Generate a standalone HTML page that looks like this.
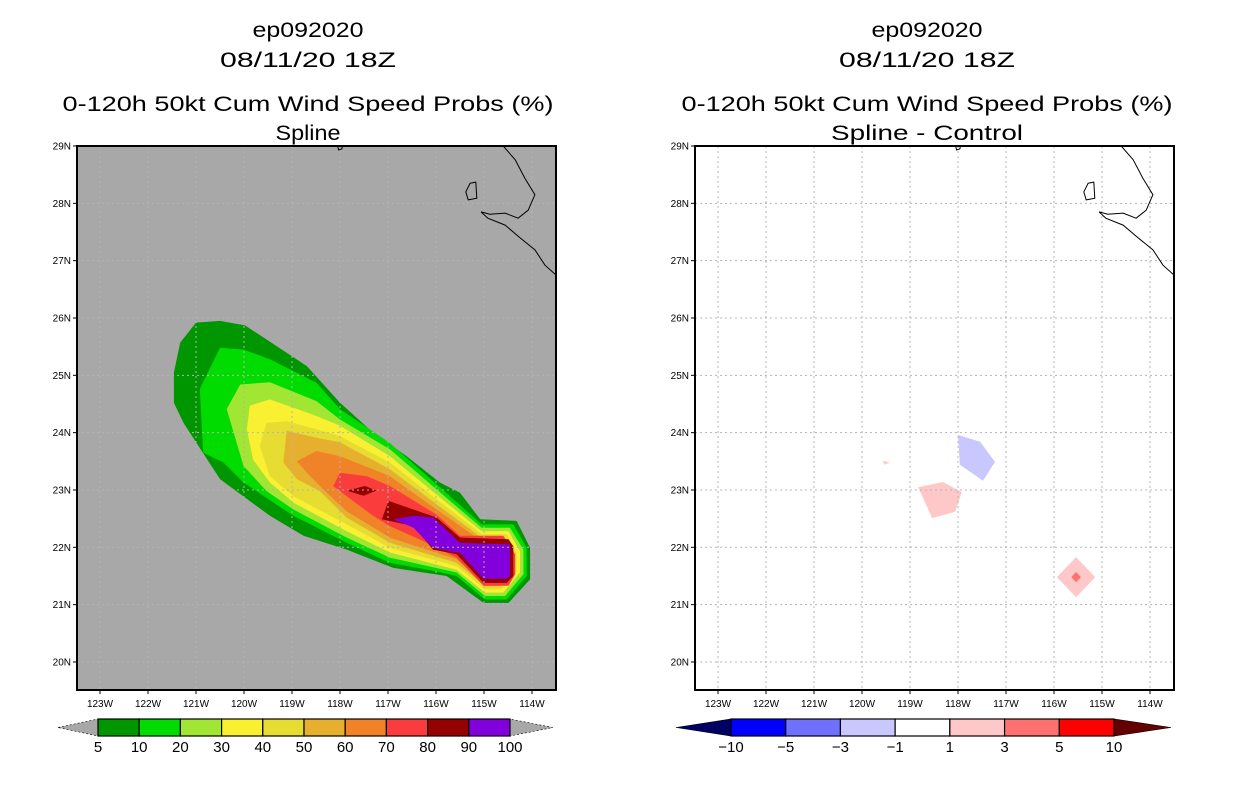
<!DOCTYPE html>
<html><head><meta charset="utf-8"><style>
body{margin:0;background:#fff;width:1236px;height:800px;overflow:hidden}
svg{display:block}
text{font-family:"Liberation Sans",sans-serif;fill:#000}
</style></head><body>
<svg id="c" width="1236" height="800" xmlns="http://www.w3.org/2000/svg"></svg>
<script>
// ---- data ----
const lonTicks=[-123,-122,-121,-120,-119,-118,-117,-116,-115,-114];
const latTicks=[20,21,22,23,24,25,26,27,28,29];
const probLevels=[5,10,20,30,40,50,60,70,80,90,100];
const probColors=["#009600","#00dc00","#a0e632","#faf032","#e6dc32","#e6af2d","#f08228","#fa3c3c","#960000","#8200dc"];
const diffLevels=[-10,-5,-3,-1,1,3,5,10];
const diffColors=["#000064","#0000ff","#7070ff","#c8c8ff","#ffffff","#ffc8c8","#ff7070","#ff0000","#640000"];
const p5=[[-121.0,25.92],[-120.5,25.95],[-119.98,25.87],[-119.32,25.51],[-118.69,25.16],[-118.0,24.52],[-117.31,24.0],[-116.61,23.59],[-115.92,23.13],[-115.5,22.95],[-115.08,22.49],[-114.32,22.46],[-114.04,21.99],[-114.04,21.44],[-114.49,21.03],[-115.01,21.03],[-115.78,21.5],[-116.89,21.64],[-117.86,21.96],[-118.76,22.2],[-119.46,22.55],[-120.5,23.19],[-121.26,24.17],[-121.46,24.52],[-121.46,25.05],[-121.33,25.57]];
const p10=[[-120.5,25.48],[-120.01,25.45],[-119.46,25.28],[-118.49,24.87],[-118.0,24.41],[-116.96,23.82],[-115.99,23.1],[-115.05,22.4],[-114.39,22.4],[-114.11,21.99],[-114.11,21.5],[-114.53,21.09],[-114.98,21.09],[-115.57,21.5],[-116.06,21.59],[-116.96,21.73],[-117.86,22.08],[-118.97,22.55],[-120.01,23.13],[-120.43,23.48],[-120.85,23.65],[-120.92,24.76]];
const p20=[[-120.08,24.84],[-119.46,24.88],[-118.49,24.55],[-118.0,24.23],[-116.96,23.71],[-115.99,23.01],[-115.05,22.34],[-114.46,22.34],[-114.18,21.96],[-114.18,21.53],[-114.56,21.15],[-114.98,21.15],[-115.57,21.56],[-116.96,21.82],[-117.86,22.17],[-118.97,22.66],[-119.53,22.98],[-120.01,23.42],[-120.36,24.41]];
const p30=[[-119.88,24.47],[-119.46,24.58],[-118.49,24.29],[-118.0,24.12],[-116.96,23.59],[-115.99,22.92],[-115.05,22.28],[-114.49,22.28],[-114.25,21.93],[-114.25,21.56],[-114.6,21.21],[-114.98,21.21],[-115.57,21.61],[-116.96,21.91],[-117.86,22.28],[-118.97,22.78],[-119.46,23.13],[-119.81,23.53],[-119.94,24.06]];
const p40=[[-119.53,24.17],[-119.11,24.2],[-118.49,24.06],[-118.0,23.94],[-116.96,23.48],[-115.99,22.84],[-115.05,22.23],[-114.53,22.23],[-114.32,21.9],[-114.32,21.59],[-114.63,21.27],[-114.98,21.27],[-115.57,21.67],[-116.96,21.99],[-117.86,22.4],[-118.97,22.89],[-119.46,23.24],[-119.67,23.77]];
const p50=[[-119.11,24.03],[-118.49,23.91],[-118.0,23.83],[-116.96,23.36],[-115.99,22.75],[-115.05,22.17],[-114.56,22.17],[-114.39,21.88],[-114.39,21.61],[-114.67,21.32],[-114.98,21.32],[-115.57,21.73],[-116.96,22.08],[-117.86,22.52],[-118.42,22.98],[-118.9,23.19],[-119.18,23.48]];
const p60=[[-118.9,23.5],[-118.49,23.68],[-118.0,23.59],[-116.96,23.24],[-115.99,22.66],[-115.05,22.11],[-114.6,22.11],[-114.36,21.85],[-114.36,21.6],[-114.6,21.35],[-114.98,21.35],[-115.57,21.79],[-116.96,22.17],[-117.86,22.63],[-118.35,23.01],[-118.69,23.3]];
const p70=[[-118.0,23.3],[-117.44,23.24],[-116.96,23.07],[-115.99,22.57],[-115.5,22.2],[-114.6,22.2],[-114.35,21.88],[-114.35,21.53],[-114.49,21.33],[-115.01,21.33],[-115.57,21.82],[-116.19,22.08],[-116.96,22.37],[-117.31,22.55],[-117.86,22.89],[-118.14,23.07]];
const p80=[[-116.99,22.81],[-116.47,22.66],[-115.99,22.52],[-115.5,22.17],[-114.49,22.14],[-114.39,22.02],[-114.39,21.5],[-114.53,21.38],[-115.01,21.38],[-115.57,21.88],[-116.06,21.96],[-116.47,22.37],[-117.13,22.49]];
const p80b=[[-117.86,22.99],[-117.48,23.07],[-117.24,22.99],[-117.51,22.9]];
const p90=[[-116.89,22.49],[-116.47,22.55],[-116.06,22.52],[-115.5,22.08],[-114.46,22.05],[-114.46,21.5],[-114.53,21.45],[-115.01,21.45],[-115.5,21.9],[-116.06,21.99],[-116.47,22.34]];
const probPolys=[[p5,0],[p10,1],[p20,2],[p30,3],[p40,4],[p50,5],[p60,6],[p70,7],[p80,8],[p80b,8],[p90,9]];
const dBlue=[[-118.0,23.96],[-117.54,23.84],[-117.23,23.49],[-117.48,23.16],[-117.96,23.44]];
const dPink=[[-118.83,23.05],[-118.31,23.14],[-117.92,22.96],[-118.06,22.62],[-118.54,22.51]];
const dPink2=[[-119.56,23.51],[-119.42,23.48],[-119.54,23.44]];
const dDiamond=[[-115.54,21.83],[-115.14,21.48],[-115.54,21.13],[-115.94,21.48]];
const dDiamondIn=[[-115.54,21.57],[-115.44,21.48],[-115.54,21.39],[-115.64,21.48]];
const diffPolys=[[dBlue,3],[dPink,5],[dPink2,5],[dDiamond,5],[dDiamondIn,6]];
const coast=[[-114.6,29.0],[-114.35,28.76],[-114.15,28.44],[-113.94,28.15],[-114.08,27.88],[-114.29,27.74],[-114.56,27.83],[-114.88,27.81],[-115.06,27.85],[-114.92,27.74],[-114.56,27.62],[-114.25,27.4],[-113.94,27.19],[-113.73,26.92],[-113.5,26.75]];
const island=[[-115.29,28.35],[-115.17,28.37],[-115.15,28.09],[-115.33,28.06],[-115.38,28.2]];
const islet=[[-118.05,29.0],[-118.03,28.93],[-117.96,28.95],[-117.95,29.0]];

// ---- drawing ----
const NS="http://www.w3.org/2000/svg";
const svg=document.getElementById('c');
function mk(tag,attrs,parent){const e=document.createElementNS(NS,tag);for(const k in attrs)e.setAttribute(k,attrs[k]);(parent||svg).appendChild(e);return e;}
const panels=[{x0:77,name:'left'},{x0:695,name:'right'}];
const W=479,Y0=146,H=544;
function xs(p,lon){return p.x0+23+(lon+123)*48;}
function ys(lat){return Y0+(29-lat)*57.33;}
function pts(p,arr){return arr.map(d=>xs(p,d[0]).toFixed(1)+','+ys(d[1]).toFixed(1)).join(' ');}
function title(cx,lines,tag){
  const ys_=[37,67,111,140];
  lines.forEach((l,i)=>{const t=mk('text',{x:cx,y:ys_[i],'text-anchor':'middle','font-size':21,textLength:l[1],lengthAdjust:'spacingAndGlyphs'});
  
  
  t.textContent=l[0];});
}
title(308,[["ep092020",111],["08/11/20 18Z",176],["0-120h 50kt Cum Wind Speed Probs (%)",491],["Spline",65]],'left');
title(927,[["ep092020",111],["08/11/20 18Z",176],["0-120h 50kt Cum Wind Speed Probs (%)",491],["Spline - Control",192]],'right');

panels.forEach((p,pi)=>{
  const g=mk('g',{});
  
  
  const cp=mk('clipPath',{id:'clip'+pi},g);mk('rect',{x:p.x0,y:Y0,width:W,height:H},cp);
  const bg=mk('rect',{x:p.x0,y:Y0,width:W,height:H,fill:pi==0?'#a8a8a8':'#ffffff'},g);
  
  
  const inner=mk('g',{'clip-path':'url(#clip'+pi+')'},g);
  const polys=pi==0?probPolys:diffPolys, cols=pi==0?probColors:diffColors;
  polys.forEach((pp,k)=>{const e=mk('polygon',{points:pts(p,pp[0]),fill:cols[pp[1]]},inner);
    
    });
  lonTicks.forEach(l=>{const e=mk('line',{x1:xs(p,l),x2:xs(p,l),y1:Y0,y2:Y0+H,stroke:'#b4b4b4','stroke-dasharray':'2,3','stroke-width':1},inner);
    
    });
  latTicks.forEach(l=>{const e=mk('line',{x1:p.x0,x2:p.x0+W,y1:ys(l),y2:ys(l),stroke:'#b4b4b4','stroke-dasharray':'2,3','stroke-width':1},inner);
    
    });
  const c1=mk('polyline',{points:pts(p,coast),fill:'none',stroke:'#000','stroke-width':1},inner);
  
  
  const c2=mk('polygon',{points:pts(p,island),fill:'none',stroke:'#000','stroke-width':1},inner);
  
  
  const c3=mk('polyline',{points:pts(p,islet),fill:'none',stroke:'#000','stroke-width':1},inner);
  
  
  const fr=mk('rect',{x:p.x0,y:Y0,width:W,height:H,fill:'none',stroke:'#000','stroke-width':2},g);
  
  
  latTicks.forEach(l=>{mk('line',{x1:p.x0-4,x2:p.x0,y1:ys(l),y2:ys(l),stroke:'#000'},g);
    const t=mk('text',{x:p.x0-6,y:ys(l)+3.5,'text-anchor':'end','font-size':10},g);
    
    
    t.textContent=l+'N';});
  lonTicks.forEach(l=>{mk('line',{x1:xs(p,l),x2:xs(p,l),y1:Y0+H,y2:Y0+H+4,stroke:'#000'},g);
    const t=mk('text',{x:xs(p,l),y:707,'text-anchor':'middle','font-size':10},g);
    
    
    t.textContent=(-l)+'W';});
});

// colorbars
function colorbar(name,x0,x1,tipL,tipR,cols,labels,arrowCols){
  const g=mk('g',{});
  
  
  const y=719,h=17,n=cols.length,w=(x1-x0)/n;
  mk('polygon',{points:`${tipL},${y+h/2} ${x0},${y} ${x0},${y+h}`,fill:arrowCols[0],stroke:'#000','stroke-width':0.6,'stroke-dasharray':arrowCols[2]?'2,2':'none'},g);
  mk('polygon',{points:`${tipR},${y+h/2} ${x1},${y} ${x1},${y+h}`,fill:arrowCols[1],stroke:'#000','stroke-width':0.6,'stroke-dasharray':arrowCols[2]?'2,2':'none'},g);
  cols.forEach((c,i)=>{const r=mk('rect',{x:x0+i*w,y:y,width:w,height:h,fill:c,stroke:'#000','stroke-width':1.2},g);
    
    });
  labels.forEach((l,i)=>{const t=mk('text',{x:x0+i*w,y:752,'text-anchor':'middle','font-size':15},g);
    
    
    t.textContent=String(l).replace('-','\u2212');});
}
colorbar('prob-colorbar',98,510,58,553,probColors,probLevels,['#a8a8a8','#a8a8a8',true]);
colorbar('diff-colorbar',731,1114,676,1171,diffColors.slice(1,8),diffLevels,[diffColors[0],diffColors[8],false]);
</script>
</body></html>
